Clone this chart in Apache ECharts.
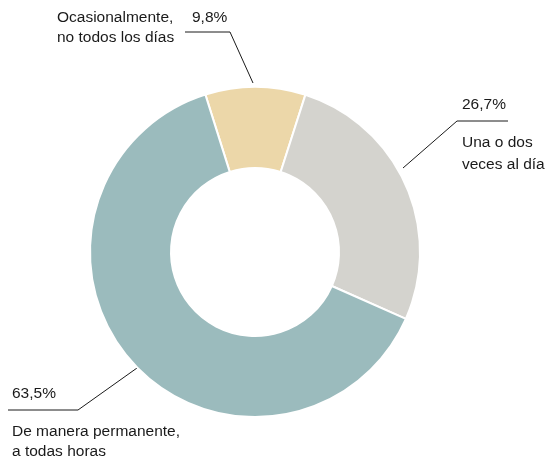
<!DOCTYPE html>
<html>
<head>
<meta charset="utf-8">
<script src="https://cdn.jsdelivr.net/npm/echarts@6/dist/echarts.min.js"></script>
<style>
html,body{margin:0;padding:0;background:#fff;}
#chart{width:548px;height:459px;}
</style>
</head>
<body>
<div id="chart"></div>
<script>
var categories = ["Ocasionalmente,\nno todos los días", "Una o dos\nveces al día", "De manera permanente,\na todas horas"];
var values = [9.8, 26.7, 63.5];
var valueLabels = ["9,8%", "26,7%", "63,5%"];
var colors = ["#ecd7a9", "#d4d3ce", "#9bbbbd"];

var chart = echarts.init(document.getElementById('chart'), null, {renderer: 'canvas'});
var FONT = '"Liberation Sans", Arial, Helvetica, sans-serif';
var FS = 15.5;

// annotation placement for each label (label anchor + leader line)
var labelPlace = [
  {x: 57, y: 8, line: [[253, 83], [230, 32], [185, 32]]},
  {x: 462, y: 78, line: [[403, 168], [457, 121], [508, 121]]},
  {x: 12, y: 366, line: [[137, 368], [78, 410], [8, 410]]}
];

var data = values.map(function (v, i) {
  return {value: v, name: categories[i], itemStyle: {color: colors[i]}};
});

function st(lh, extra) {
  var o = {fontFamily: FONT, fontSize: FS, color: '#1a1a1a', lineHeight: lh};
  if (extra) { for (var k in extra) o[k] = extra[k]; }
  return o;
}

chart.setOption({
  animation: false,
  series: [{
    type: 'pie',
    center: [255, 252],
    radius: [84, 165],
    startAngle: 107.5,
    clockwise: true,
    avoidLabelOverlap: false,
    itemStyle: {borderColor: '#ffffff', borderWidth: 2},
    emphasis: {disabled: true},
    data: data,
    label: {
      show: true,
      position: 'outside',
      fontFamily: FONT,
      fontSize: FS,
      color: '#1a1a1a',
      formatter: function (p) {
        var i = p.dataIndex;
        var cat = categories[i].split('\n');
        if (i === 0) {
          return '{c0|' + cat[0] + '}{p0|' + valueLabels[i] + '}\n{c0|' + cat[1] + '}';
        } else if (i === 1) {
          return '{p1|' + valueLabels[i] + '}\n{c1|' + cat[0] + '}\n{c1|' + cat[1] + '}';
        }
        return '{p2|' + valueLabels[i] + '}\n{c2|' + cat[0] + '}\n{c2|' + cat[1] + '}';
      },
      rich: {
        c0: st(20, {width: 135}),
        p0: st(20),
        p1: st(54),
        c1: st(22),
        p2: st(56),
        c2: st(20)
      }
    },
    labelLine: {
      show: true,
      smooth: false,
      lineStyle: {color: '#1a1a1a', width: 1}
    },
    labelLayout: function (params) {
      var pl = labelPlace[params.dataIndex];
      return {
        x: pl.x,
        y: pl.y,
        align: 'left',
        verticalAlign: 'top',
        hideOverlap: false,
        moveOverlap: null,
        labelLinePoints: pl.line
      };
    }
  }]
});
</script>
</body>
</html>
